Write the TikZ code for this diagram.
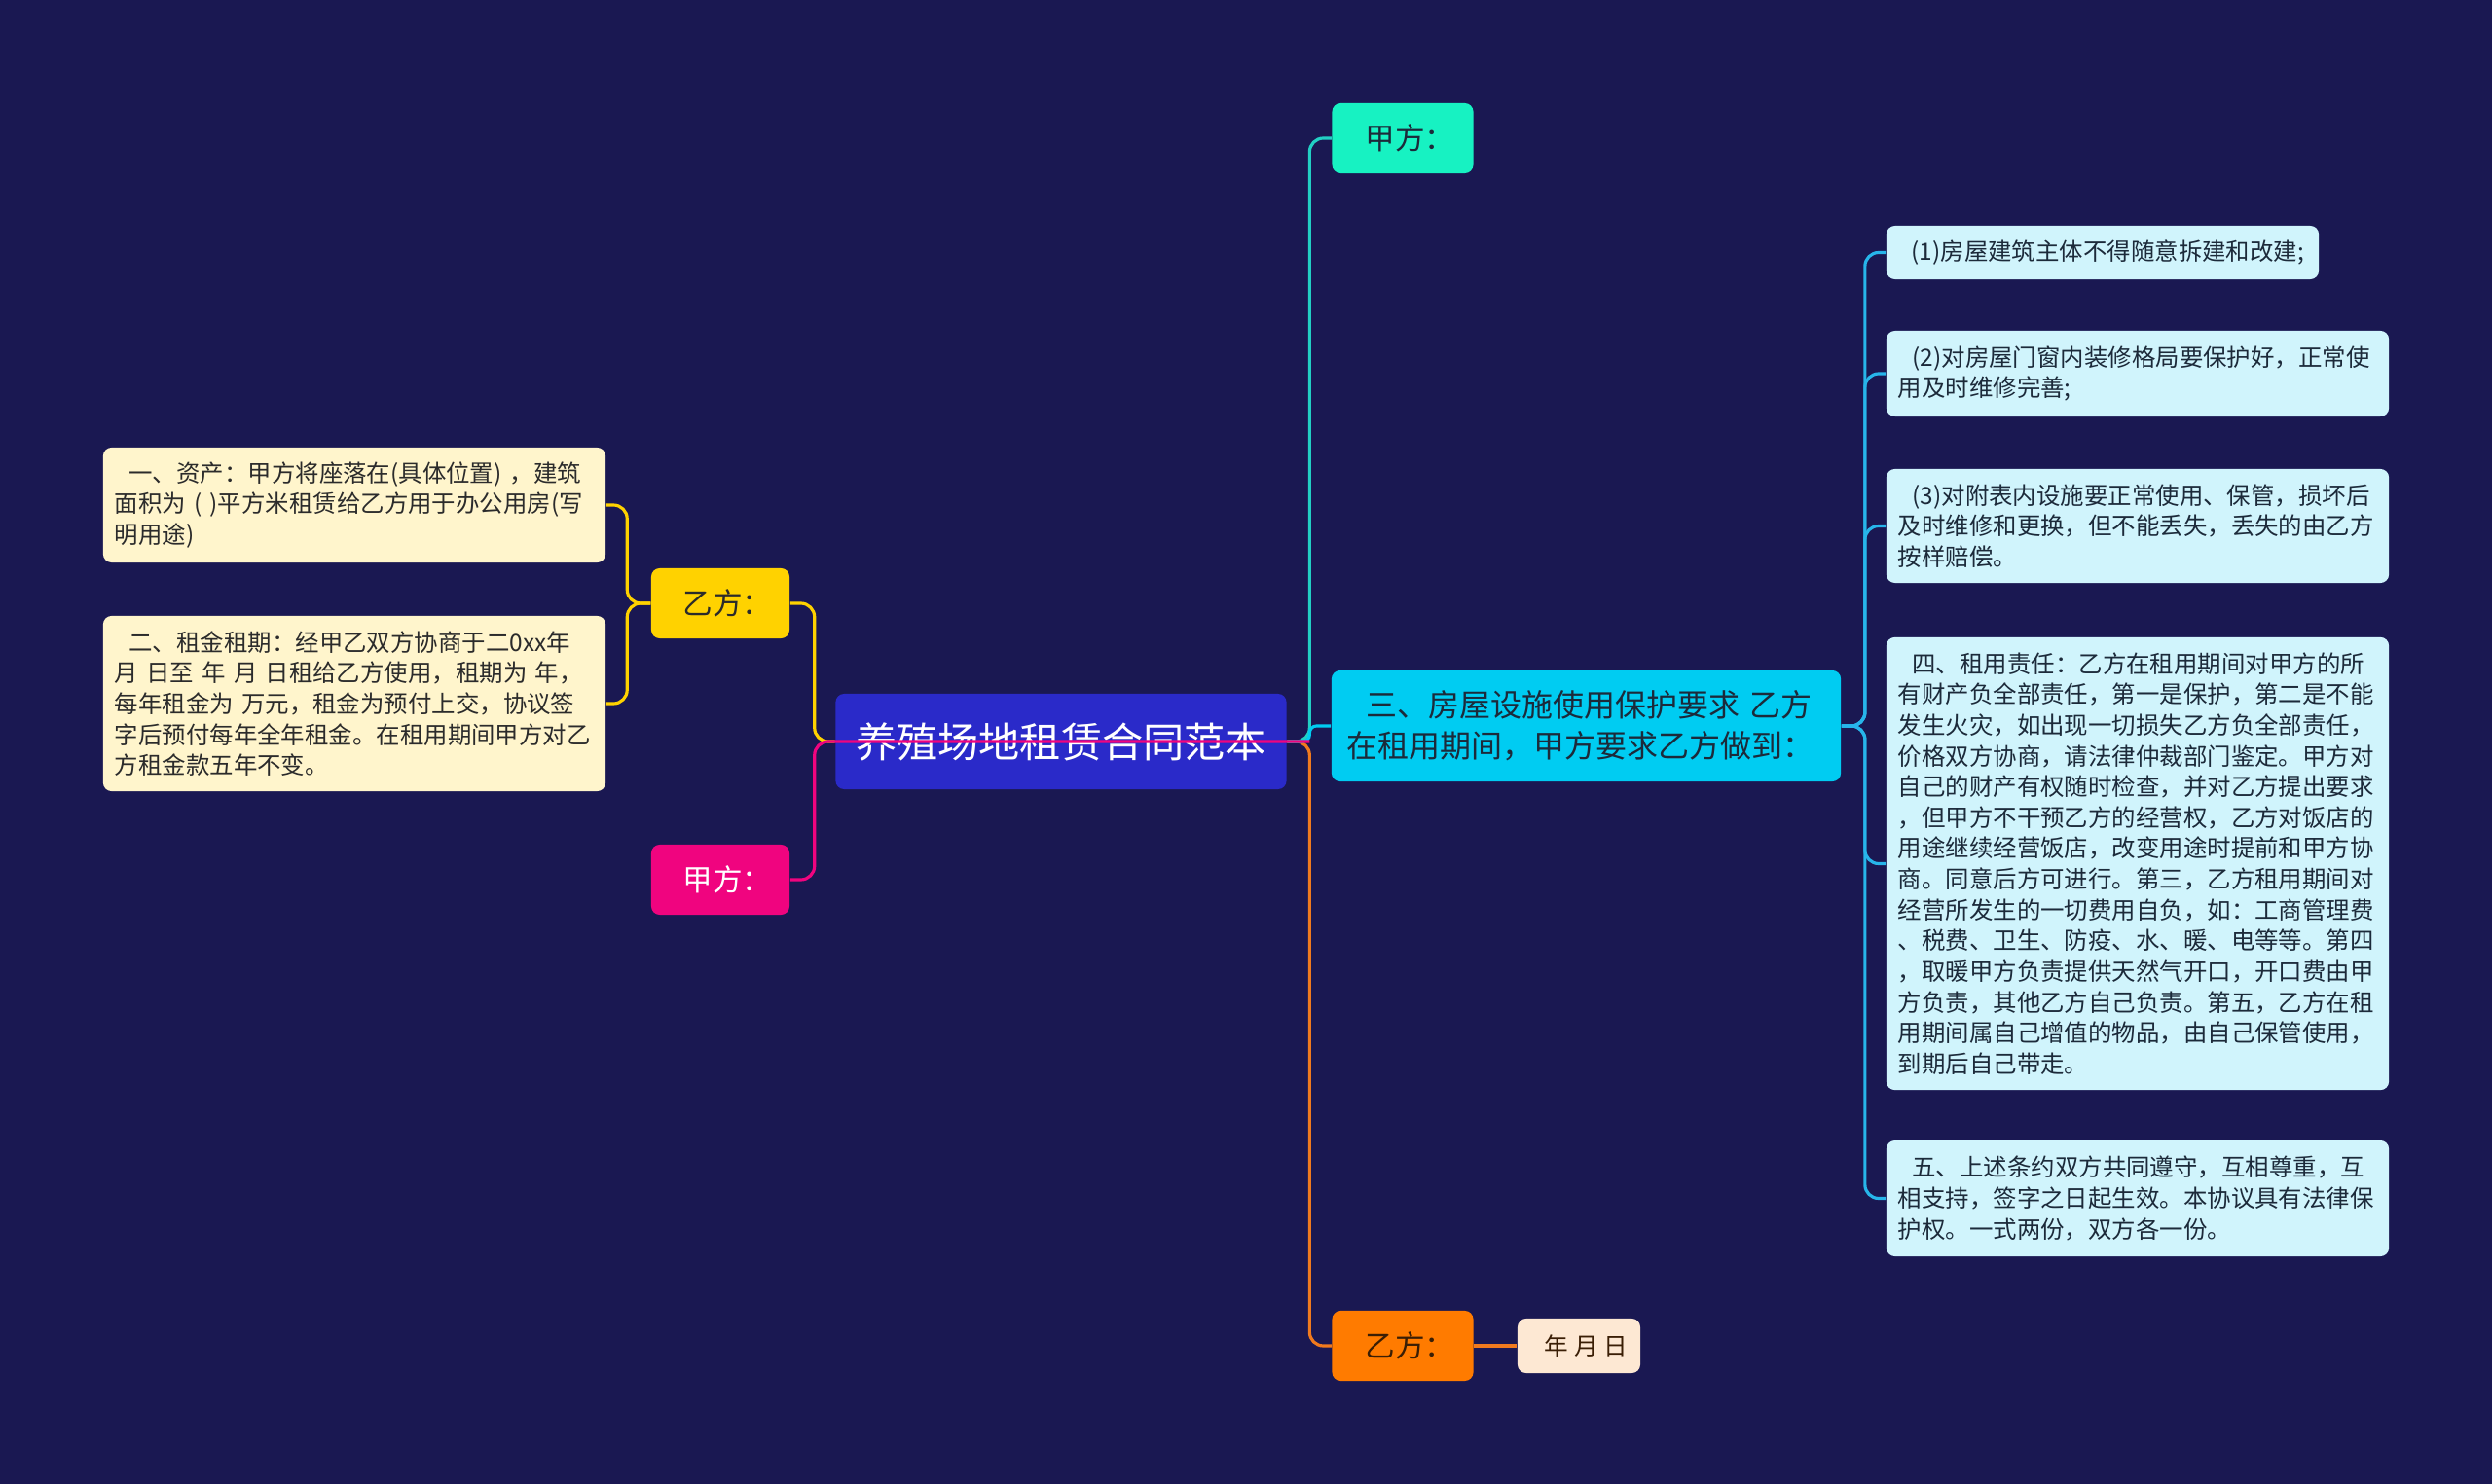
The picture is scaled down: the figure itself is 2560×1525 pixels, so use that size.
\documentclass[tikz,border=0pt]{standalone}
\usepackage{fontspec}
\usepackage{tikz}
\usetikzlibrary{positioning, calc}
\newfontfamily\cjk{Noto Sans CJK SC}
\definecolor{night}{HTML}{1A1852}
\definecolor{hubfill}{HTML}{2A2AC9}
\definecolor{gold}{HTML}{FFD200}
\definecolor{cream}{HTML}{FFF5CC}
\definecolor{rose}{HTML}{F0047F}
\definecolor{mint}{HTML}{17F2C2}
\definecolor{mintln}{HTML}{22CFC4}
\definecolor{sky}{HTML}{00CCF2}
\definecolor{skyln}{HTML}{27B5EA}
\definecolor{ice}{HTML}{D0F4FC}
\definecolor{amber}{HTML}{FF7B00}
\definecolor{amberln}{HTML}{F07A1E}
\definecolor{peach}{HTML}{FDE8D3}
\definecolor{inkd}{HTML}{2B2B2B}
\definecolor{inkb}{HTML}{1C2A3A}
\definecolor{inko}{HTML}{3A1E05}
\newcommand\indnt{\hspace*{0.6em}}
\newcommand\nudge{\hspace*{0.5em}}
\tikzset{
  nd/.style={rounded corners=2.5pt, inner sep=0pt, font=\cjk\fontsize{8.7}{12}\selectfont,
    align=center, minimum height=0.72cm},
  hub/.style={nd, fill=hubfill, text=white, font=\cjk\fontsize{12}{14}\selectfont,
    minimum width=4.63cm, minimum height=0.98cm},
  brY/.style={nd, fill=gold, text=inkd, minimum width=1.42cm},
  brP/.style={nd, fill=rose, text=white, minimum width=1.42cm},
  brT/.style={nd, fill=mint, text=inkb, minimum width=1.45cm},
  brO/.style={nd, fill=amber, text=inko, minimum width=1.45cm},
  brC/.style={nd, fill=sky, text=inkb, align=left, text width=4.91cm, inner xsep=0.16cm,
    minimum height=1.14cm, font=\cjk\fontsize{9.1}{12}\selectfont},
  lf/.style={rounded corners=2.5pt, font=\cjk\fontsize{6.95}{9}\selectfont, align=left,
    text width=4.92cm, inner xsep=0.12cm, inner ysep=0.1cm},
  lfY/.style={lf, fill=cream, text=inkd},
  lfC/.style={lf, fill=ice, text=inkb},
  lfO/.style={rounded corners=2.5pt, inner sep=0pt, fill=peach, text=inko,
    font=\cjk\fontsize{7}{9}\selectfont, minimum width=1.26cm, minimum height=0.56cm},
  ln/.style={line width=0.9pt, rounded corners=4pt},
  lnY/.style={ln, draw=gold},
  lnP/.style={ln, draw=rose},
  lnT/.style={ln, draw=mintln},
  lnC/.style={ln, draw=sky},
  lnO/.style={ln, draw=amberln},
  lnS/.style={ln, draw=skyln},
}
\begin{document}
\begin{tikzpicture}[x=0.01cm, y=-0.01cm]
  \fill[night] (0,0) rectangle (2560,1525);
  \node[hub] (hub) at (1090,762) {养殖场地租赁合同范本};
  \node[brY] (yiL) at (740,620) {\nudge 乙方：};
  \node[brP] (jiaL) at (740,904) {\nudge 甲方：};
  \node[lfY, minimum height=1.18cm] (a1) at (364,519)
    {\indnt 一、资产：甲方将座落在(具体位置) ，建筑\\面积为 ( )平方米租赁给乙方用于办公用房(写\\明用途)};
  \node[lfY, minimum height=1.80cm] (a2) at (364,723)
    {\indnt 二、租金租期：经甲乙双方协商于二0xx年\\月 日至 年 月 日租给乙方使用，租期为 年，\\每年租金为 万元，租金为预付上交，协议签\\字后预付每年全年租金。在租用期间甲方对乙\\方租金款五年不变。};
  \node[brT] (jiaR) at (1441,142) {\nudge 甲方：};
  \node[brC] (san) at (1629.5,746) {\indnt 三、房屋设施使用保护要求 乙方\\在租用期间，甲方要求乙方做到：};
  \node[brO] (yiR) at (1441,1383) {\nudge 乙方：};
  \node[lfO] (ymd) at (1622,1383) {\indnt 年 月 日};
  \node[lfC, text width=4.22cm, inner xsep=0.11cm, minimum height=0.55cm] (s1) at (2160,259.5)
    {\indnt (1)房屋建筑主体不得随意拆建和改建;};
  \node[lfC, minimum height=0.88cm] (s2) at (2196,384)
    {\indnt (2)对房屋门窗内装修格局要保护好，正常使\\用及时维修完善;};
  \node[lfC, minimum height=1.17cm] (s3) at (2196,540.5)
    {\indnt (3)对附表内设施要正常使用、保管，损坏后\\及时维修和更换，但不能丢失，丢失的由乙方\\按样赔偿。};
  \node[lfC, minimum height=4.65cm] (s4) at (2196,887.5)
    {\indnt 四、租用责任：乙方在租用期间对甲方的所\\有财产负全部责任，第一是保护，第二是不能\\发生火灾，如出现一切损失乙方负全部责任，\\价格双方协商，请法律仲裁部门鉴定。甲方对\\自己的财产有权随时检查，并对乙方提出要求\\，但甲方不干预乙方的经营权，乙方对饭店的\\用途继续经营饭店，改变用途时提前和甲方协\\商。同意后方可进行。第三，乙方租用期间对\\经营所发生的一切费用自负，如：工商管理费\\、税费、卫生、防疫、水、暖、电等等。第四\\，取暖甲方负责提供天然气开口，开口费由甲\\方负责，其他乙方自己负责。第五，乙方在租\\用期间属自己增值的物品，由自己保管使用，\\到期后自己带走。};
  \node[lfC, minimum height=1.19cm] (s5) at (2196,1231.5)
    {\indnt 五、上述条约双方共同遵守，互相尊重，互\\相支持，签字之日起生效。本协议具有法律保\\护权。一式两份，双方各一份。};
  \draw[lnO] (hub.east) -- ++(23,0) |- (yiR.west);
  \draw[lnT] (hub.east) -- ++(23,0) |- (jiaR.west);
  \draw[lnC, rounded corners=2pt] (hub.east) -- ++(23,0) |- (san.west);
  \draw[lnO] (yiR.east) -- (ymd.west);
  \draw[lnY] (yiL.east) -- ++(25,0) |- (hub.west);
  \draw[lnP] (jiaL.east) -- ++(25,0) |- ($(hub.east)+(23,0)$);
  \draw[lnY] (yiL.west) -- ++(-24,0) |- (a1.east);
  \draw[lnY] (yiL.west) -- ++(-24,0) |- (a2.east);
  \foreach \s in {s1,s2,s3,s4,s5}
    \draw[lnS] (san.east) -- ++(24,0) |- (\s.west);
\end{tikzpicture}
\end{document}
